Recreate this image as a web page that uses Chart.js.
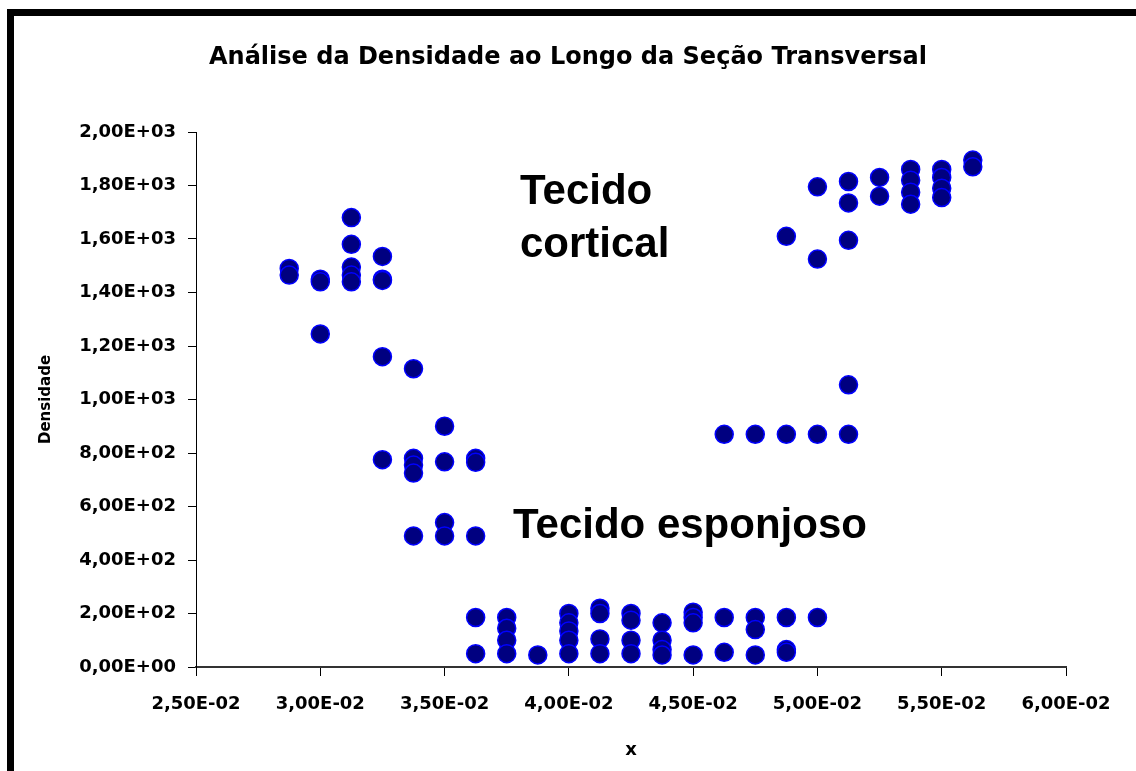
<!DOCTYPE html>
<html>
<head>
<meta charset="utf-8">
<script src="https://cdn.jsdelivr.net/npm/chart.js@4/dist/chart.umd.min.js"></script>
<style>
  body { margin: 0; background: #fff; }
  #wrap { width: 1136px; height: 771px; position: relative; }
</style>
</head>
<body>
<div id="wrap"><canvas id="densChart"></canvas></div>
<script>
// positions along the section (x) and the densities read at each one
const xPositions = [0.02875, 0.03, 0.03125, 0.0325, 0.03375, 0.035, 0.03625, 0.0375,
  0.03875, 0.04, 0.04125, 0.0425, 0.04375, 0.045, 0.04625, 0.0475, 0.04875, 0.05,
  0.05125, 0.0525, 0.05375, 0.055, 0.05625];
const densities = [
  [1490, 1465],
  [1450, 1440, 1245],
  [1680, 1580, 1495, 1465, 1440],
  [1535, 1450, 1445, 1160, 775],
  [1115, 780, 755, 725, 490],
  [900, 767, 540, 490],
  [780, 765, 490, 185, 50],
  [185, 145, 100, 50],
  [45],
  [200, 165, 135, 100, 50],
  [220, 200, 105, 50],
  [200, 175, 100, 50],
  [165, 100, 65, 45],
  [205, 185, 165, 45],
  [870, 185, 55],
  [870, 185, 140, 45],
  [1610, 870, 185, 65, 55],
  [1795, 1525, 870, 185],
  [1815, 1735, 1595, 1055, 870],
  [1830, 1760],
  [1860, 1820, 1775, 1730],
  [1860, 1830, 1790, 1755],
  [1895, 1870]
];
const xTickLabels = ["2,50E-02", "3,00E-02", "3,50E-02", "4,00E-02", "4,50E-02",
  "5,00E-02", "5,50E-02", "6,00E-02"];
const yTickLabels = ["0,00E+00", "2,00E+02", "4,00E+02", "6,00E+02", "8,00E+02",
  "1,00E+03", "1,20E+03", "1,40E+03", "1,60E+03", "1,80E+03", "2,00E+03"];

const points = [];
xPositions.forEach((x, i) => {
  densities[i].forEach(d => points.push({ x: x, y: d }));
});

const tickFont = { family: "'DejaVu Sans'", weight: "bold", size: 18 };

// white page with the thick black frame on the top and left
const framePlugin = {
  id: "frame",
  beforeDraw(chart) {
    const ctx = chart.ctx;
    ctx.save();
    ctx.fillStyle = "#fff";
    ctx.fillRect(0, 0, chart.width, chart.height);
    ctx.fillStyle = "#000";
    ctx.fillRect(7, 9, 7, chart.height - 9);
    ctx.fillRect(7, 9, chart.width - 7, 7);
    ctx.restore();
  }
};

// the two text boxes inside the plot
const labelsPlugin = {
  id: "tissueLabels",
  afterDatasetsDraw(chart) {
    const ctx = chart.ctx;
    ctx.save();
    ctx.fillStyle = "#000";
    ctx.font = "bold 42px 'Liberation Sans', Arial";
    ctx.textAlign = "left";
    ctx.textBaseline = "alphabetic";
    ctx.fillText("Tecido", 520, 204);
    ctx.fillText("cortical", 520, 257);
    ctx.fillText("Tecido esponjoso", 513, 538);
    ctx.restore();
  }
};

new Chart(document.getElementById("densChart"), {
  type: "scatter",
  data: {
    datasets: [{
      label: "Densidade",
      data: points,
      pointRadius: 9,
      pointHoverRadius: 9,
      pointBackgroundColor: "#000080",
      pointBorderColor: "#0000ff",
      pointBorderWidth: 1.5
    }]
  },
  options: {
    responsive: true,
    maintainAspectRatio: false,
    animation: false,
    layout: { padding: 0 },
    plugins: {
      legend: { display: false },
      tooltip: { enabled: false },
      title: {
        display: true,
        text: "Análise da Densidade ao Longo da Seção Transversal",
        color: "#000",
        font: { family: "'DejaVu Sans'", weight: "bold", size: 24 },
        padding: { top: 43, bottom: 60.2 }
      }
    },
    scales: {
      x: {
        type: "linear",
        min: 0.025,
        max: 0.06,
        afterFit(scale) { scale.height = 104; },
        ticks: {
          stepSize: 0.005,
          autoSkip: false,
          maxRotation: 0,
          color: "#000",
          font: tickFont,
          padding: 18,
          callback: (v, i) => xTickLabels[i]
        },
        grid: { drawOnChartArea: false, drawTicks: true, tickLength: 9, color: "#000" },
        border: { color: "#333", width: 2 },
        title: {
          display: true,
          text: "x",
          color: "#000",
          font: { family: "'DejaVu Sans'", weight: "bold", size: 18 },
          padding: { top: 0, bottom: 10 }
        }
      },
      y: {
        min: 0,
        max: 2000,
        afterFit(scale) { scale.width = 196; },
        ticks: {
          stepSize: 200,
          color: "#000",
          font: tickFont,
          padding: 12,
          callback: (v, i) => yTickLabels[i]
        },
        grid: { drawOnChartArea: false, drawTicks: true, tickLength: 8, color: "#000" },
        border: { color: "#000", width: 1 },
        title: {
          display: true,
          text: "Densidade",
          color: "#000",
          font: { family: "'DejaVu Sans'", weight: "bold", size: 15 },
          padding: { top: 37, bottom: 0 }
        }
      },
      // empty right-hand strip so the title centres on the whole page
      yRight: {
        position: "right",
        min: 0,
        max: 2000,
        afterFit(scale) { scale.width = 70; },
        ticks: { display: false },
        grid: { display: false, drawTicks: false },
        border: { display: false }
      }
    }
  },
  plugins: [framePlugin, labelsPlugin]
});
</script>
</body>
</html>
